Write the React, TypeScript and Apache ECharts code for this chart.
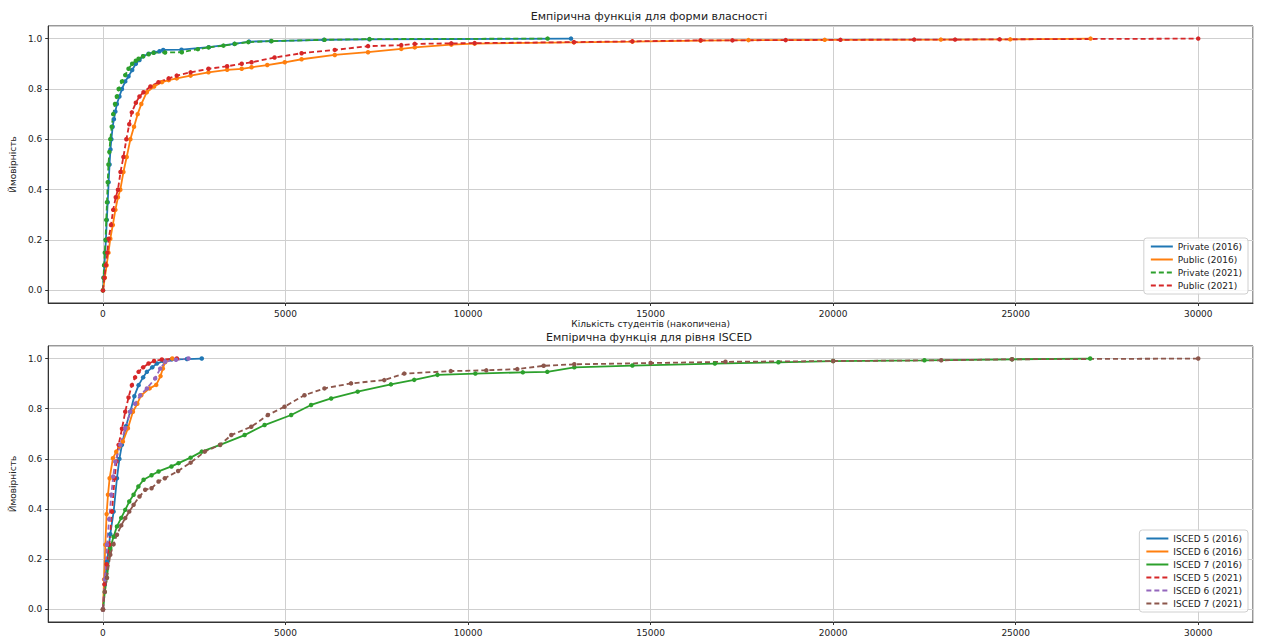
import React, { useEffect, useRef } from "react";
import * as echarts from "echarts";

const topTitle = "Емпірична функція для форми власності";
const bottomTitle = "Емпірична функція для рівня ISCED";
const xAxisName = "Кількість студентів (накопичена)";
const yAxisName = "Ймовірність";

const topNames = ["Private (2016)", "Public (2016)", "Private (2021)", "Public (2021)"];
const bottomNames = ["ISCED 5 (2016)", "ISCED 6 (2016)", "ISCED 7 (2016)", "ISCED 5 (2021)", "ISCED 6 (2021)", "ISCED 7 (2021)"];

const private2016 = [[0,0],[20,0.05],[40,0.1],[60,0.15],[80,0.2],[105,0.28],[130,0.35],[155,0.43],[180,0.5],[205,0.56],[230,0.6],[265,0.65],[300,0.68],[340,0.71],[380,0.74],[450,0.77],[520,0.8],[610,0.83],[700,0.85],[800,0.875],[900,0.9],[1000,0.915],[1100,0.93],[1250,0.94],[1400,0.945],[1550,0.95],[1650,0.955],[2150,0.956],[2900,0.966],[3600,0.979],[4000,0.988],[4600,0.99],[6050,0.995],[7300,0.997],[12820,1.0]];
const public2016 = [[0,0],[50,0.05],[100,0.1],[150,0.15],[200,0.205],[270,0.26],[340,0.32],[410,0.37],[475,0.4],[560,0.47],[650,0.53],[750,0.6],[850,0.65],[950,0.7],[1050,0.74],[1200,0.787],[1400,0.81],[1615,0.827],[1800,0.835],[2020,0.842],[2400,0.853],[2890,0.866],[3400,0.876],[3800,0.88],[4070,0.886],[4500,0.895],[4980,0.906],[5440,0.918],[6350,0.935],[7260,0.946],[8170,0.959],[8540,0.965],[9540,0.976],[10180,0.98],[12900,0.985],[14500,0.988],[16370,0.992],[17680,0.994],[19770,0.995],[22950,0.996],[24850,0.997],[27050,1.0]];
const private2021 = [[0,0],[15,0.05],[30,0.1],[50,0.15],[70,0.2],[90,0.28],[110,0.35],[130,0.43],[150,0.5],[175,0.55],[200,0.6],[240,0.65],[280,0.7],[330,0.74],[380,0.77],[430,0.8],[520,0.83],[610,0.855],[700,0.88],[800,0.9],[900,0.912],[975,0.92],[1100,0.93],[1250,0.938],[1385,0.944],[1700,0.945],[2160,0.946],[2600,0.958],[2890,0.965],[3300,0.972],[3610,0.979],[3980,0.986],[4620,0.99],[6070,0.995],[7300,0.998],[12180,1.0]];
const public2021 = [[0,0],[40,0.05],[80,0.1],[120,0.15],[155,0.205],[220,0.26],[280,0.32],[350,0.37],[410,0.4],[480,0.47],[560,0.53],[640,0.6],[720,0.66],[790,0.707],[900,0.745],[1000,0.77],[1110,0.787],[1300,0.81],[1520,0.827],[1800,0.842],[2020,0.853],[2400,0.866],[2890,0.88],[3400,0.89],[3800,0.9],[4070,0.906],[4700,0.925],[5440,0.942],[6350,0.955],[7260,0.97],[8170,0.974],[8540,0.979],[9540,0.981],[10180,0.982],[12900,0.986],[14500,0.989],[16370,0.993],[17240,0.993],[18700,0.994],[20200,0.995],[22220,0.996],[23340,0.996],[24560,0.997],[30000,1.0]];

const isced5y2016 = [[0,0],[50,0.1],[109,0.19],[200,0.3],[292,0.39],[383,0.523],[450,0.6],[519,0.656],[630,0.73],[747,0.788],[860,0.85],[975,0.894],[1100,0.925],[1203,0.947],[1350,0.965],[1476,0.98],[1650,0.99],[1886,0.997],[2300,0.998],[2706,1.0]];
const isced6y2016 = [[0,0],[30,0.12],[64,0.258],[100,0.38],[137,0.457],[182,0.523],[273,0.603],[364,0.629],[450,0.65],[546,0.669],[683,0.722],[820,0.788],[940,0.82],[1048,0.854],[1276,0.881],[1458,0.895],[1577,0.93],[1640,0.96],[1700,0.985],[1900,1.0]];
const isced7y2016 = [[0,0],[50,0.07],[109,0.126],[200,0.245],[290,0.29],[383,0.331],[500,0.365],[610,0.397],[720,0.43],[838,0.457],[970,0.49],[1112,0.517],[1330,0.535],[1522,0.55],[1876,0.57],[2069,0.583],[2400,0.605],[2706,0.629],[3208,0.656],[3880,0.695],[4426,0.735],[5155,0.775],[5700,0.815],[6250,0.841],[6976,0.868],[7887,0.897],[8524,0.915],[9162,0.935],[10200,0.94],[11500,0.945],[12170,0.947],[12910,0.965],[14500,0.972],[16760,0.98],[18500,0.985],[20000,0.99],[22500,0.993],[24900,0.997],[27040,1.0]];
const isced5y2021 = [[0,0],[40,0.1],[100,0.18],[173,0.258],[246,0.39],[319,0.523],[370,0.59],[428,0.656],[520,0.72],[610,0.788],[700,0.845],[792,0.894],[880,0.925],[975,0.947],[1100,0.965],[1248,0.98],[1400,0.99],[1613,0.996],[2023,1.0]];
const isced6y2021 = [[0,0],[50,0.12],[109,0.258],[170,0.36],[228,0.457],[280,0.53],[337,0.589],[474,0.656],[610,0.722],[747,0.788],[880,0.82],[1021,0.854],[1203,0.881],[1431,0.921],[1568,0.96],[1705,0.987],[2000,0.995],[2342,1.0]];
const isced7y2021 = [[0,0],[50,0.07],[109,0.126],[200,0.218],[290,0.26],[383,0.298],[500,0.335],[610,0.364],[720,0.39],[838,0.417],[1000,0.45],[1157,0.477],[1330,0.483],[1522,0.51],[1694,0.523],[2058,0.552],[2400,0.585],[2787,0.629],[3208,0.656],[3515,0.695],[4062,0.728],[4517,0.775],[4973,0.808],[5519,0.854],[6066,0.881],[6794,0.901],[7705,0.914],[8252,0.94],[9527,0.95],[10500,0.953],[11348,0.958],[12070,0.971],[12910,0.977],[15000,0.982],[17050,0.987],[20000,0.99],[22960,0.993],[24900,0.997],[30000,1.0]];

const C = ["#1f77b4", "#ff7f0e", "#2ca02c", "#d62728", "#9467bd", "#8c564b"];
const FONT = "DejaVu Sans";

function mkSeries(name: string, data: number[][], color: string, dashed: boolean, idx: number) {
  return {
    name,
    type: "line",
    xAxisIndex: idx,
    yAxisIndex: idx,
    data,
    symbol: "circle",
    symbolSize: 4.5,
    showSymbol: true,
    color,
    itemStyle: { color },
    lineStyle: { color, width: 1.8, type: dashed ? [5, 3] : "solid" },
  };
}

function mkX(idx: number, withName: boolean) {
  return {
    type: "value",
    gridIndex: idx,
    min: -1500,
    max: 31500,
    splitNumber: 6,
    name: withName ? xAxisName : "",
    nameLocation: "middle",
    nameGap: 16,
    nameTextStyle: { fontFamily: FONT, fontSize: 9, color: "#222" },
    axisLine: { show: true, onZero: false, lineStyle: { color: "#333" } },
    axisTick: { show: true, length: 3, lineStyle: { color: "#333" } },
    axisLabel: {
      showMinLabel: false,
      showMaxLabel: false,
      fontFamily: FONT,
      fontSize: 9,
      color: "#222",
      margin: 6,
      formatter: (v: number) => String(v),
    },
    splitLine: { show: true, lineStyle: { color: "#cfcfcf", width: 1 } },
  };
}

function mkY(idx: number) {
  return {
    type: "value",
    gridIndex: idx,
    min: -0.05,
    max: 1.05,
    splitNumber: 5,
    name: yAxisName,
    nameLocation: "middle",
    nameRotate: 90,
    nameGap: 29,
    nameTextStyle: { fontFamily: FONT, fontSize: 9, color: "#222" },
    axisLine: { show: true, onZero: false, lineStyle: { color: "#333" } },
    axisTick: { show: true, length: 3, lineStyle: { color: "#333" } },
    axisLabel: {
      showMinLabel: false,
      showMaxLabel: false,
      fontFamily: FONT,
      fontSize: 9,
      color: "#222",
      margin: 6,
      formatter: (v: number) => v.toFixed(1),
    },
    splitLine: { show: true, lineStyle: { color: "#cfcfcf", width: 1 } },
  };
}

function mkLegend(names: string[], top: number) {
  return {
    data: names,
    orient: "vertical",
    right: 14,
    top,
    backgroundColor: "rgba(255,255,255,0.85)",
    borderColor: "#d0d0d0",
    borderWidth: 1,
    borderRadius: 3,
    padding: [4, 6, 4, 6],
    itemGap: 4,
    itemWidth: 22,
    itemHeight: 10,
    itemStyle: { opacity: 0 },
    textStyle: { fontFamily: FONT, fontSize: 9, color: "#222" },
  };
}

export default function App() {
  const ref = useRef<HTMLDivElement>(null);
  useEffect(() => {
    document.body.style.margin = "0";
    if (!ref.current) return;
    const chart = echarts.init(ref.current, undefined, { renderer: "svg" });
    const topData = [private2016, public2016, private2021, public2021];
    const topColors = [C[0], C[1], C[2], C[3]];
    const bottomData = [isced5y2016, isced6y2016, isced7y2016, isced5y2021, isced6y2021, isced7y2021];
    const series: any[] = [];
    topNames.forEach((n, i) => series.push(mkSeries(n, topData[i], topColors[i], i >= 2, 0)));
    bottomNames.forEach((n, i) => series.push(mkSeries(n, bottomData[i], C[i], i >= 3, 1)));
    chart.setOption({
      animation: false,
      backgroundColor: "#ffffff",
      textStyle: { fontFamily: FONT },
      grid: [
        { left: 46, top: 26, width: 1207, height: 277, show: true, borderColor: "#333", borderWidth: 1 },
        { left: 46, top: 346, width: 1207, height: 276, show: true, borderColor: "#333", borderWidth: 1 },
      ],
      xAxis: [mkX(0, true), mkX(1, false)],
      yAxis: [mkY(0), mkY(1)],
      legend: [mkLegend(topNames, 238), mkLegend(bottomNames, 530)],
      graphic: [
        { type: "text", x: 649, y: 16, style: { text: topTitle, fontFamily: FONT, fontSize: 11, fill: "#222", align: "center", verticalAlign: "middle" } },
        { type: "text", x: 649, y: 337, style: { text: bottomTitle, fontFamily: FONT, fontSize: 11, fill: "#222", align: "center", verticalAlign: "middle" } },
      ],
      series,
    });
    return () => chart.dispose();
  }, []);
  return <div ref={ref} style={{ width: 1262, height: 637 }} />;
}
